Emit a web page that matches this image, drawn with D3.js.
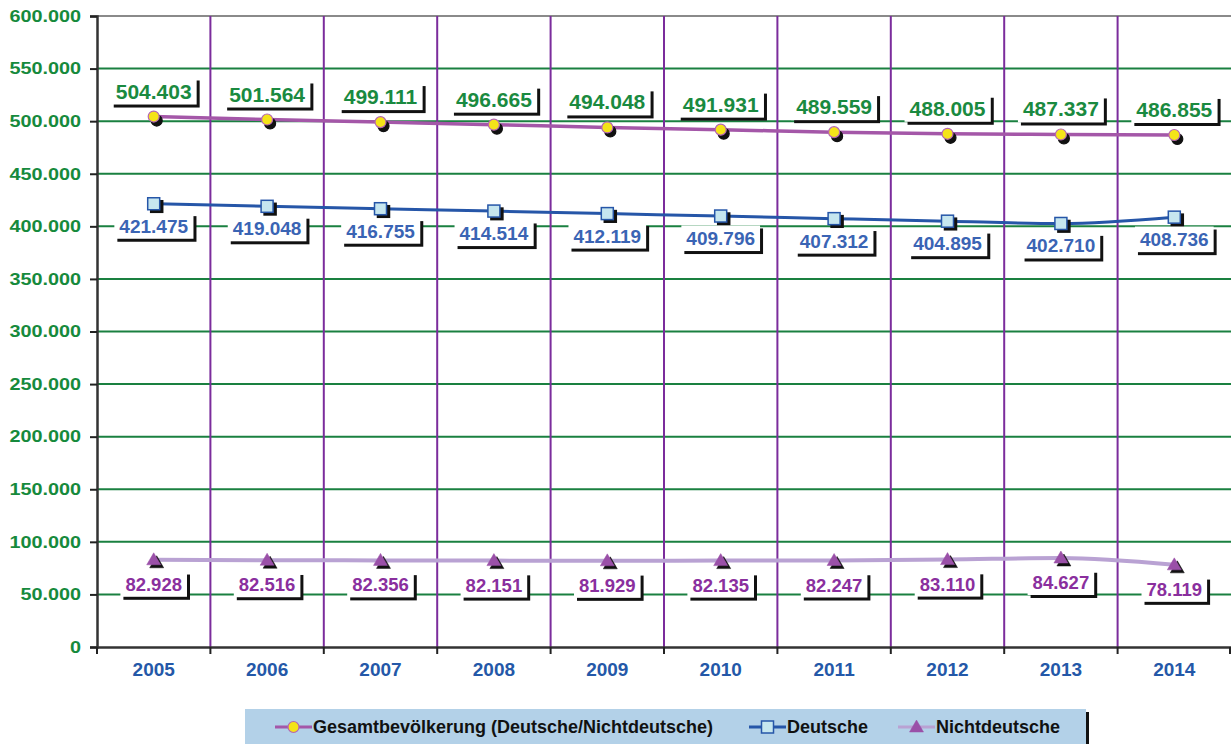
<!DOCTYPE html>
<meta charset="utf-8">
<script src="https://d3js.org/d3.v7.min.js"></script>
<style>
  body { margin: 0; background: #fff; }
  text { font-family: Arial, "Liberation Sans", sans-serif; font-weight: bold; }
</style>
<div id="chart"></div>
<script>
  // data
  const years = ["2005", "2006", "2007", "2008", "2009", "2010", "2011", "2012", "2013", "2014"];
  const gesamt = [504403, 501564, 499111, 496665, 494048, 491931, 489559, 488005, 487337, 486855];
  const deutsche = [421475, 419048, 416755, 414514, 412119, 409796, 407312, 404895, 402710, 408736];
  const nichtdeutsche = [82928, 82516, 82356, 82151, 81929, 82135, 82247, 83110, 84627, 78119];
  const yTicks = [0, 50000, 100000, 150000, 200000, 250000, 300000, 350000, 400000, 450000, 500000, 550000, 600000];
  const legendNames = ["Gesamtbevölkerung (Deutsche/Nichtdeutsche)", "Deutsche", "Nichtdeutsche"];

  const width = 1231, height = 744;
  const plotLeft = 97, plotRight = 1231, plotTop = 16, plotBottom = 647;

  const de = d3.formatLocale({decimal: ",", thousands: ".", grouping: [3], currency: ["", " €"]});
  const fmt = de.format(",");

  const svg = d3.select("#chart").append("svg")
    .attr("width", width)
    .attr("height", height);

  const x = d3.scaleBand().domain(years).range([plotLeft, plotRight]).padding(0);
  const y = d3.scaleLinear().domain([0, 600000]).range([plotBottom, plotTop]);
  const cx = d => x(d) + x.bandwidth() / 2;

  // horizontal grid (green)
  svg.append("g").selectAll("line")
    .data(yTicks.filter(t => t > 0 && t < 600000))
    .join("line")
      .attr("x1", plotLeft).attr("x2", plotRight)
      .attr("y1", d => y(d)).attr("y2", d => y(d))
      .attr("stroke", "#1a8040").attr("stroke-width", 2);

  // top border
  svg.append("line")
    .attr("x1", plotLeft).attr("x2", plotRight)
    .attr("y1", y(600000)).attr("y2", y(600000))
    .attr("stroke", "#8a8a8a").attr("stroke-width", 2);

  // vertical grid (purple) between years
  svg.append("g").selectAll("line")
    .data(years.slice(1))
    .join("line")
      .attr("x1", d => x(d)).attr("x2", d => x(d))
      .attr("y1", plotTop).attr("y2", plotBottom)
      .attr("stroke", "#7b2c9c").attr("stroke-width", 2);

  // y axis
  const yAxis = svg.append("g")
    .attr("transform", `translate(${plotLeft},0)`)
    .call(d3.axisLeft(y).tickValues(yTicks).tickFormat(fmt).tickSize(7).tickPadding(9));
  yAxis.select(".domain").attr("stroke", "#333").attr("stroke-width", 2.5);
  yAxis.selectAll(".tick line").attr("stroke", "#222").attr("stroke-width", 2);
  yAxis.selectAll(".tick text")
    .attr("fill", "#168a3c")
    .attr("font-size", 16.5)
    .attr("font-family", "Arial, 'Liberation Sans', sans-serif")
    .attr("font-weight", "bold")
    .each(function () {
      const w = this.getComputedTextLength();
      d3.select(this).attr("textLength", w * 1.2).attr("lengthAdjust", "spacingAndGlyphs");
    });

  // x axis
  const xAxis = svg.append("g")
    .attr("transform", `translate(0,${plotBottom})`)
    .call(d3.axisBottom(x).tickSize(0).tickPadding(16));
  xAxis.select(".domain").attr("stroke", "#333").attr("stroke-width", 2.5);
  xAxis.selectAll(".tick text")
    .attr("fill", "#2458a8")
    .attr("font-size", 19)
    .attr("font-family", "Arial, 'Liberation Sans', sans-serif")
    .attr("font-weight", "bold");
  svg.append("g").selectAll("line")
    .data(years.map(d => x(d)).concat([plotRight - 1]))
    .join("line")
      .attr("x1", d => d).attr("x2", d => d)
      .attr("y1", plotBottom).attr("y2", plotBottom + 7)
      .attr("stroke", "#222").attr("stroke-width", 2);

  const series = [
    {name: legendNames[0], values: gesamt, line: "#a457a8", width: 3.5, marker: "circle",
     fill: "#f4e418", stroke: "#b465b4", label: "#1a8a40", fs: 21, dy: -18},
    {name: legendNames[1], values: deutsche, line: "#2656a8", width: 3, marker: "square",
     fill: "#c6e6ef", stroke: "#2656a8", label: "#3a64b4", fs: 19, dy: 29},
    {name: legendNames[2], values: nichtdeutsche, line: "#b9a2d3", width: 4, marker: "triangle",
     fill: "#9a50a8", stroke: "#9a50a8", label: "#8a2f9e", fs: 18.5, dy: 31}
  ];

  const lineGen = d3.line()
    .x((d, i) => cx(years[i]))
    .y(d => y(d))
    .curve(d3.curveMonotoneX);

  function drawMarker(g, type, px, py, fill, stroke, shadow) {
    const o = shadow ? 3 : 0;
    const f = shadow ? "#111" : fill;
    const s = shadow ? "#111" : stroke;
    if (type === "circle") {
      g.append("circle").attr("cx", px + o).attr("cy", py + (shadow ? 4 : 0)).attr("r", 5.5)
        .attr("fill", f).attr("stroke", s).attr("stroke-width", 1.2);
    } else if (type === "square") {
      g.append("rect").attr("x", px - 6 + o).attr("y", py - 6 + o).attr("width", 12).attr("height", 12)
        .attr("fill", f).attr("stroke", s).attr("stroke-width", 1.5);
    } else {
      g.append("path")
        .attr("d", `M${px + o},${py - 7 + o}L${px + 7 + o},${py + 5 + o}L${px - 7 + o},${py + 5 + o}Z`)
        .attr("fill", f).attr("stroke", s).attr("stroke-width", 0.5);
    }
  }

  series.forEach(s => {
    svg.append("path")
      .datum(s.values)
      .attr("d", lineGen)
      .attr("fill", "none")
      .attr("stroke", s.line)
      .attr("stroke-width", s.width);
  });

  series.forEach(s => {
    const g = svg.append("g");
    s.values.forEach((v, i) => {
      drawMarker(g, s.marker, cx(years[i]), y(v), s.fill, s.stroke, true);
      drawMarker(g, s.marker, cx(years[i]), y(v), s.fill, s.stroke, false);
    });
  });

  // value labels with white box and black shadow
  series.forEach(s => {
    s.values.forEach((v, i) => {
      const g = svg.append("g");
      const base = y(v) + s.dy;
      const t = g.append("text")
        .attr("x", cx(years[i]))
        .attr("y", base)
        .attr("text-anchor", "middle")
        .attr("font-size", s.fs)
        .attr("fill", s.label)
        .text(fmt(v));
      const bb = t.node().getBBox();
      const cap = s.fs * 0.716;
      const bx = bb.x - 5, bw = bb.width + 10, by = base - cap - 6, bh = cap + 12;
      g.insert("rect", "text")
        .attr("x", bx).attr("y", by).attr("width", bw).attr("height", bh)
        .attr("fill", "#fff");
      g.insert("rect", "rect")
        .attr("x", bx + 3).attr("y", by + 3).attr("width", bw).attr("height", bh)
        .attr("fill", "#111");
    });
  });

  // legend
  const lg = svg.append("g");
  lg.append("rect").attr("x", 248).attr("y", 712).attr("width", 841).attr("height", 40).attr("fill", "#111");
  lg.append("rect").attr("x", 245).attr("y", 709).attr("width", 841).attr("height", 40).attr("fill", "#b3d1e8");
  const legendX = [275, 749, 898];
  series.forEach((s, i) => {
    const lx = legendX[i], ly = 727;
    lg.append("line")
      .attr("x1", lx).attr("x2", lx + 37)
      .attr("y1", ly).attr("y2", ly)
      .attr("stroke", s.line).attr("stroke-width", 3);
    drawMarker(lg, s.marker, lx + 18.5, ly, s.fill, s.stroke, false);
    lg.append("text")
      .attr("x", lx + 38)
      .attr("y", ly)
      .attr("dy", "0.35em")
      .attr("font-size", 18)
      .attr("fill", "#111")
      .text(s.name);
  });
</script>
